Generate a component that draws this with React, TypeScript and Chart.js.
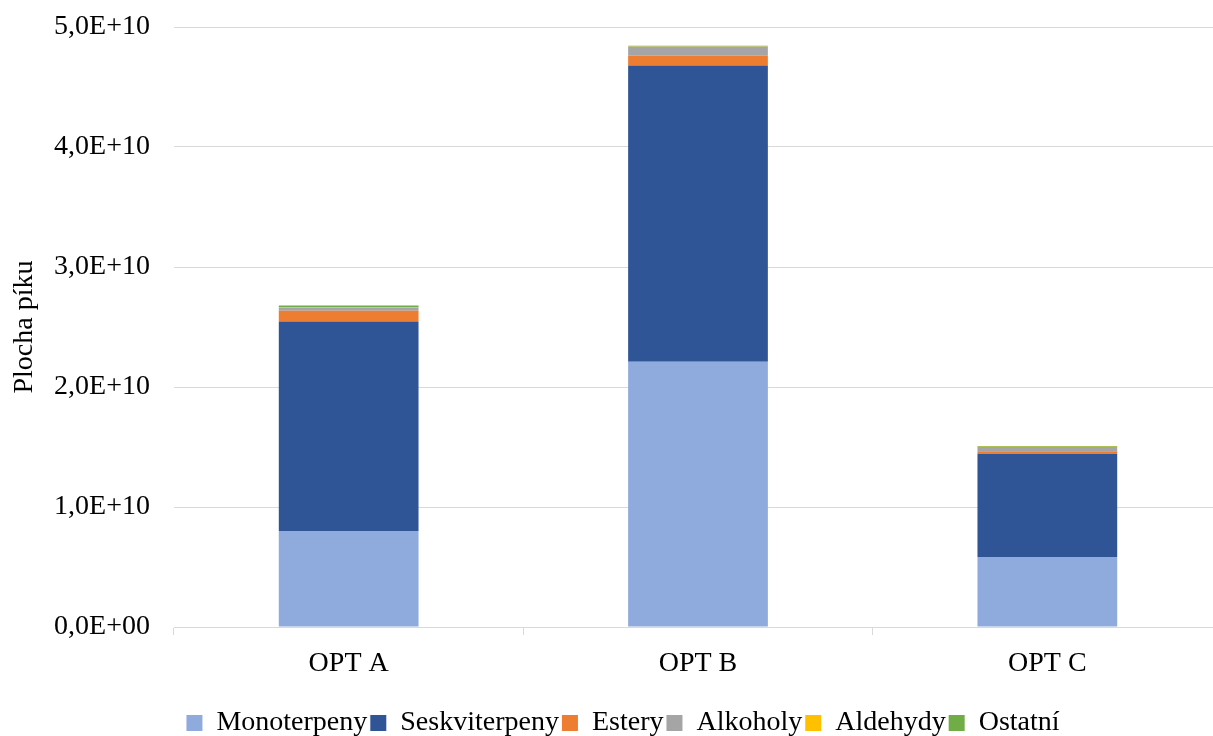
import { useEffect, useRef } from "react";
import { Chart, registerables } from "chart.js";

Chart.register(...registerables);

// Peak areas by compound class for each sample
const categories = ["OPT A", "OPT B", "OPT C"];
const monoterpeny = [8.0e9, 2.21e10, 5.83e9];
const seskviterpeny = [1.745e10, 2.47e10, 8.61e9];
const estery = [9.0e8, 8.3e8, 2.0e8];
const alkoholy = [2.8e8, 7.2e8, 3.6e8];
const aldehydy = [4.0e7, 3.0e7, 2.0e7];
const ostatni = [1.2e8, 6.0e7, 6.0e7];

const seriesNames = ["Monoterpeny", "Seskviterpeny", "Estery", "Alkoholy", "Aldehydy", "Ostatní"];
const seriesValues = [monoterpeny, seskviterpeny, estery, alkoholy, aldehydy, ostatni];
const seriesColors = ["#8FAADC", "#2F5597", "#ED7D31", "#A5A5A5", "#FFC000", "#70AD47"];

const yTicks = { min: 0, max: 5e10, step: 1e10 };

const FONT_FAMILY = "'Liberation Serif', 'Times New Roman', serif";
const FONT_SIZE = 28;

function formatSci(v: number): string {
  if (v === 0) return "0,0E+00";
  const exp = Math.floor(Math.log10(Math.abs(v)));
  const mant = v / Math.pow(10, exp);
  const sign = exp >= 0 ? "+" : "-";
  return mant.toFixed(1).replace(".", ",") + "E" + sign + String(Math.abs(exp)).padStart(2, "0");
}

// Nudges the legend row sideways after layout
const legendShift = {
  id: "legendShift",
  afterLayout(chart: any) {
    const lg = chart.legend;
    if (lg) {
      lg.left += 12;
      lg.right += 12;
    }
  },
};

export default function App() {
  const canvasRef = useRef<HTMLCanvasElement | null>(null);

  useEffect(() => {
    if (!canvasRef.current) return;
    const font = { family: FONT_FAMILY, size: FONT_SIZE };
    const chart = new Chart(canvasRef.current, {
      type: "bar",
      data: {
        labels: categories,
        datasets: seriesNames.map((name, i) => ({
          label: name,
          data: seriesValues[i],
          backgroundColor: seriesColors[i],
          borderWidth: 0,
          barPercentage: 0.4,
          categoryPercentage: 1,
        })),
      },
      options: {
        responsive: false,
        animation: false,
        devicePixelRatio: 1,
        layout: { padding: 0 },
        plugins: {
          tooltip: { enabled: false },
          legend: {
            position: "bottom",
            labels: {
              font,
              color: "#000",
              boxWidth: 16,
              boxHeight: 16,
              padding: 3,
            },
          },
        },
        scales: {
          x: {
            stacked: true,
            grid: {
              offset: true,
              drawOnChartArea: false,
              drawTicks: true,
              tickLength: 8,
              color: "#d9d9d9",
            },
            border: { color: "#d9d9d9" },
            ticks: { font, color: "#000", padding: 12 },
            afterFit: (scale: any) => {
              scale.height = 79;
            },
          },
          y: {
            stacked: true,
            min: yTicks.min,
            max: yTicks.max,
            grid: { color: "#d9d9d9", drawTicks: false },
            border: { display: false },
            ticks: {
              stepSize: yTicks.step,
              font,
              color: "#000",
              padding: 24,
              callback: (v: any) => formatSci(Number(v)),
            },
            title: {
              display: true,
              text: "Plocha píku",
              font,
              color: "#000",
              padding: { top: 8, bottom: 4 },
            },
            afterFit: (scale: any) => {
              scale.width = 174;
              scale.paddingTop = 27;
              scale.paddingBottom = 0;
            },
          },
        },
      },
      plugins: [legendShift],
    });
    return () => chart.destroy();
  }, []);

  return (
    <div
      style={{
        position: "absolute",
        left: 0,
        top: 0,
        width: 1213,
        height: 736,
        overflow: "hidden",
        background: "#fff",
      }}
    >
      <canvas ref={canvasRef} width={1222} height={747} style={{ display: "block" }} />
    </div>
  );
}
